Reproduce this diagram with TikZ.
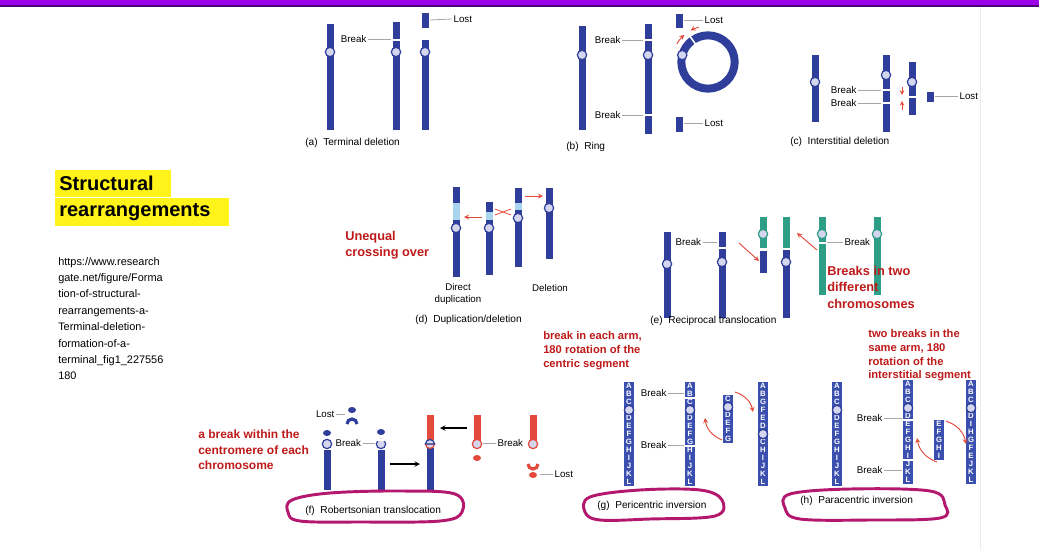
\documentclass[tikz,border=0pt]{standalone}
\usepackage{fontspec}
\setmainfont{Liberation Sans}
\usetikzlibrary{calc}
\begin{document}
\definecolor{chrblue}{HTML}{2E3E9A}
\definecolor{letblue}{HTML}{3A4FAE}
\definecolor{cenfill}{HTML}{D4D6EE}
\definecolor{teal1}{HTML}{2E9E86}
\definecolor{lightb}{HTML}{A8D4F0}
\definecolor{redc}{HTML}{E24A3B}
\definecolor{redt}{HTML}{BE1A1A}
\definecolor{mag}{HTML}{B3176E}
\definecolor{purp}{HTML}{9C00E8}
\begin{tikzpicture}[x=0.75pt,y=-0.75pt,
 chr/.style={line width=5.25pt,draw=chrblue},
 cen/.style={circle,draw=chrblue,fill=cenfill,line width=0.9pt,minimum size=7pt,inner sep=0pt},
 lbl/.style={font=\fontsize{7.3}{8.5}\selectfont,inner sep=1pt},
 lead/.style={draw=gray!70,line width=0.6pt},
 capt/.style={font=\fontsize{7.6}{9}\selectfont,anchor=west,inner sep=0pt},
 let/.style={font=\fontsize{5.8}{6}\selectfont\bfseries,text=white,inner sep=0pt},
 rt/.style={font=\fontsize{9.6}{12.2}\selectfont\bfseries,text=redt,align=left,anchor=north west,inner sep=0pt},
 rarr/.style={draw=redc,line width=0.7pt,-stealth},
 loop/.style={draw=mag,line width=2.2pt}]
\useasboundingbox (0,0) rectangle (1039,550);
\fill[white] (0,0) rectangle (1039,550);
\fill[purp] (0,0) rectangle (1039,5);
\fill[purp!50!black] (0,5) rectangle (1039,6.5);
\draw[gray!15,line width=0.6pt] (980,7)--(980,550);
\newcommand\mychr[4][chrblue]{\draw[chr,draw=#1] (#2,#3)--(#2,#4);}
\newcommand\mybrk[2]{\draw[white,line width=1pt] (#1-5,#2)--(#1+5,#2);}
\newcommand\mycen[3][chrblue]{\node[cen,draw=#1] at (#2,#3) {};}
\newcommand\letchr[3]{\foreach \l [count=\i] in {#3}{\fill[letblue] (#1-5,#2+\i*8-8+0.4) rectangle (#1+5,#2+\i*8-0.4); \node[let] at (#1,#2+\i*8-4) {\l};}}
% ---------- left text
\fill[yellow!90!white] (55,170) rectangle (171,197);
\fill[yellow!90!white] (55,198) rectangle (229,226);
\node[font=\fontsize{15}{18}\selectfont\bfseries,anchor=west,inner sep=0] (t1) at (59,183) {Structural};
\node[font=\fontsize{15}{18}\selectfont\bfseries,anchor=west,inner sep=0] (t2) at (59,212) {rearrangements};
\node[font=\fontsize{8.2}{12.3}\selectfont,align=left,anchor=north west,inner sep=0] (url) at (58,257)
 {https://www.research\\gate.net/figure/Forma\\tion-of-structural-\\rearrangements-a-\\Terminal-deletion-\\formation-of-a-\\terminal\_fig1\_227556\\180};
% ---------- (a)
\mychr{330}{24}{130}\mycen{330}{52}
\mychr{396}{22}{130}\mybrk{396}{40}\mycen{396}{52}
\node[lbl,anchor=east] (ba) at (368,39) {Break}; \draw[lead] (ba.east)--(391,39);
\mychr{425}{13}{28}\mychr{425}{40}{130}\mycen{425}{52}
\node[lbl,anchor=west] (la) at (452,19) {Lost}; \draw[lead] (430,20)--(la.west);
\node[capt] (ca) at (305,143) {(a)\ \ Terminal deletion};
% ---------- (b)
\mychr{582}{26}{130}\mycen{582}{55}
\mychr{648}{24}{134}\mybrk{648}{40}\mybrk{648}{115}\mycen{648}{55}
\node[lbl,anchor=east] (bb1) at (622,40) {Break}; \draw[lead] (bb1.east)--(643,40);
\node[lbl,anchor=east] (bb2) at (622,115) {Break}; \draw[lead] (bb2.east)--(643,115);
\coordinate (rc) at (708,62);
\draw[chrblue,line width=6pt] (rc) circle[radius=20pt];
\draw[white,line width=1.2pt] ($(rc)+(125:16pt)$)--($(rc)+(125:24pt)$);
\node[cen] at ($(rc)+(165:20pt)$) {};
\draw[rarr] ($(rc)+(150:27pt)$) arc[start angle=150,end angle=131,radius=27pt];
\draw[rarr] ($(rc)+(105:27pt)$) arc[start angle=105,end angle=119,radius=27pt];
\mychr{679}{14}{28}\mychr{679}{117}{132}
\node[lbl,anchor=west] (lb1) at (703,20) {Lost}; \draw[lead] (684,20)--(lb1.west);
\node[lbl,anchor=west] (lb2) at (703,123) {Lost}; \draw[lead] (684,123)--(lb2.west);
\node[capt] (cb) at (566,147) {(b)\ \ Ring};
% ---------- (c)
\mychr{815}{55}{122}\mycen{815}{82}
\mychr{886}{55}{132}\mybrk{886}{90}\mybrk{886}{103}\mycen{886}{75}
\node[lbl,anchor=east] (bc1) at (858,90) {Break}; \draw[lead] (bc1.east)--(881,90);
\node[lbl,anchor=east] (bc2) at (858,103) {Break}; \draw[lead] (bc2.east)--(881,103);
\mychr{912}{62}{96}\mychr{912}{98}{115}\mycen{912}{82}
\draw[redc,line width=0.6pt,-stealth] (902,87)--(902,95);
\draw[redc,line width=0.6pt,-stealth] (902,110)--(902,101);
\mychr{930}{92}{102}
\node[lbl,anchor=west] (lc) at (958,96) {Lost}; \draw[lead] (935,96)--(lc.west);
\node[capt] (cc) at (790,142) {(c)\ \ Interstitial deletion};
% ---------- (d)
\mychr{456}{187}{277}\draw[line width=5.25pt,draw=lightb] (456,203)--(456,220);\mycen{456}{228}
\mychr{489}{202}{275}\draw[line width=5.25pt,draw=lightb] (489,212)--(489,220);\mycen{489}{228}
\mychr{518}{188}{267}\draw[line width=5.25pt,draw=lightb] (518,203)--(518,210);\mycen{518}{218}
\mychr{549}{188}{259}\mycen{549}{208}
\draw[rarr] (482,217)--(464,217);
\draw[redc,line width=0.6pt] (495,209)--(511,215) (495,215)--(511,209);
\draw[rarr] (525,196)--(543,196);
\node[lbl,align=center] (dd) at (458,294) {Direct\\duplication};
\node[lbl] (dl) at (550,288) {Deletion};
\node[capt] (cd) at (415,320) {(d)\ \ Duplication/deletion};
\node[rt] (uq) at (345,231) {Unequal\\crossing over};
% ---------- (e)
\mychr{667}{232}{318}\mycen{667}{264}
\mychr{722}{232}{318}\mybrk{722}{248}\mycen{722}{262}
\node[lbl,anchor=west] (be1) at (674,242) {Break}; \draw[lead] (be1.east)--(717,242);
\draw[rarr] (739,243)--(759,261);
\mychr[teal1]{763}{217}{248}\mychr{763}{251}{273}\mycen[teal1]{763}{234}
\mychr[teal1]{786}{217}{248}\mychr{786}{250}{318}\mycen{786}{262}
\draw[rarr] (817,250)--(797,233);
\mychr[teal1]{822}{217}{295}\mybrk{822}{243}\mycen[teal1]{822}{234}
\node[lbl,anchor=west] (be2) at (843,242) {Break}; \draw[lead] (827,242)--(be2.west);
\mychr[teal1]{877}{217}{295}\mycen[teal1]{877}{234}
\node[capt] (ce) at (650,321) {(e)\ \ Reciprocal translocation};
\node[rt] (bt) at (827,266) {Breaks in two\\different\\chromosomes};
% ---------- (f)
\node[rt,font=\fontsize{9}{11.3}\selectfont\bfseries] (fr) at (198,430) {a break within the\\centromere of each\\chromosome};
\fill[chrblue] (352,410) ellipse[x radius=4,y radius=3];
\draw[chrblue,line width=2.4pt] (347,424) arc[start angle=180,end angle=360,radius=5];
\node[lbl,anchor=east] (lf1) at (336,414) {Lost}; \draw[lead] (lf1.east)--(345,414);
\fill[chrblue] (327,433) ellipse[x radius=4,y radius=3];
\mychr{327}{450}{490}\mycen{327}{444}
\node[lbl,anchor=west] (bf1) at (334,443) {Break}; \draw[lead] (bf1.east)--(375,443);
\fill[chrblue] (381,432) ellipse[x radius=4,y radius=3];
\mychr{381}{450}{490}\mycen{381}{444}\draw[white,line width=1.2pt] (375,440)--(387,440);
\draw[-stealth,line width=0.8pt] (390,464)--(420,464);
\draw[chr,draw=redc] (430,415)--(430,440);
\mychr{430}{448}{490}
\fill[cenfill,draw=redc,line width=0.9pt] (425.5,444) arc[start angle=180,end angle=0,radius=4.5]--cycle;
\fill[cenfill,draw=chrblue,line width=0.9pt] (425.5,444) arc[start angle=180,end angle=360,radius=4.5]--cycle;
\draw[-stealth,line width=0.8pt] (467,428)--(440,428);
\draw[chr,draw=redc] (477,415)--(477,440);\mycen[redc]{477}{444}
\fill[redc] (477,458) ellipse[x radius=4,y radius=3];
\node[lbl,anchor=west] (bf2) at (496,443) {Break}; \draw[lead] (483,443)--(bf2.west);
\draw[chr,draw=redc] (533,415)--(533,440);\mycen[redc]{533}{444}
\draw[redc,line width=2.4pt] (528,464) arc[start angle=180,end angle=0,radius=5];
\fill[redc] (533,475) ellipse[x radius=4,y radius=3];
\node[lbl,anchor=west] (lf2) at (553,474) {Lost}; \draw[lead] (540,474)--(lf2.west);
\node[capt] (cf) at (305,511) {(f)\ \ Robertsonian translocation};
\draw[loop] plot[smooth cycle,tension=0.6] coordinates {(292,500) (330,493) (400,491) (455,494) (462,512) (440,521) (360,522) (300,521) (288,512)};
% ---------- (g)
\node[rt,font=\fontsize{8.4}{10.4}\selectfont\bfseries] (gr) at (543,331) {break in each arm,\\180 rotation of the\\centric segment};
\letchr{629}{382}{A,B,C,{},D,E,F,G,H,I,J,K,L}\mycen{629}{410}
\letchr{690}{382}{A,B,C,{},D,E,F,G,H,I,J,K,L}\mycen{690}{410}
\draw[white,line width=1pt] (685,398)--(695,398) (685,446)--(695,446);
\node[lbl,anchor=east] (bg1) at (668,393) {Break}; \draw[lead] (bg1.east)--(684,393);
\node[lbl,anchor=east] (bg2) at (668,445) {Break}; \draw[lead] (bg2.east)--(684,445);
\letchr{728}{395}{C,{},D,E,F,G}\mycen{728}{407}
\letchr{763}{382}{A,B,G,F,E,D,{},C,H,I,J,K,L}\mycen{763}{434}
\draw[rarr] (722,440) to[bend left=30] (705,418);
\draw[rarr] (735,392) to[bend left=30] (753,412);
\node[capt] (cg) at (597,506) {(g)\ \ Pericentric inversion};
\draw[loop] plot[smooth cycle,tension=0.6] coordinates {(590,497) (640,490) (700,490) (722,500) (715,516) (650,519) (600,520) (585,512)};
% ---------- (h)
\node[rt,font=\fontsize{8.4}{10.4}\selectfont\bfseries] (hr) at (868,329) {two breaks in the\\same arm, 180\\rotation of the\\interstitial segment};
\letchr{837}{382}{A,B,C,{},D,E,F,G,H,I,J,K,L}\mycen{837}{410}
\letchr{908}{380}{A,B,C,{},D,E,F,G,H,I,J,K,L}\mycen{908}{408}
\draw[white,line width=1pt] (903,420)--(913,420) (903,460)--(913,460);
\node[lbl,anchor=east] (bh1) at (884,418) {Break}; \draw[lead] (bh1.east)--(902,418);
\node[lbl,anchor=east] (bh2) at (884,470) {Break}; \draw[lead] (bh2.east)--(902,470);
\letchr{939}{420}{E,F,G,H,I}
\letchr{971}{380}{A,B,C,{},D,I,H,G,F,E,J,K,L}\mycen{971}{408}
\draw[rarr] (937,462) to[bend left=30] (917,438);
\draw[rarr] (946,421) to[bend left=30] (966,444);
\node[capt] (ch) at (800,501) {(h)\ \ Paracentric inversion};
\draw[loop] plot[smooth cycle,tension=0.6] coordinates {(790,494) (850,489) (930,491) (945,505) (940,518) (870,520) (800,519) (785,508)};
\end{tikzpicture}
\end{document}
